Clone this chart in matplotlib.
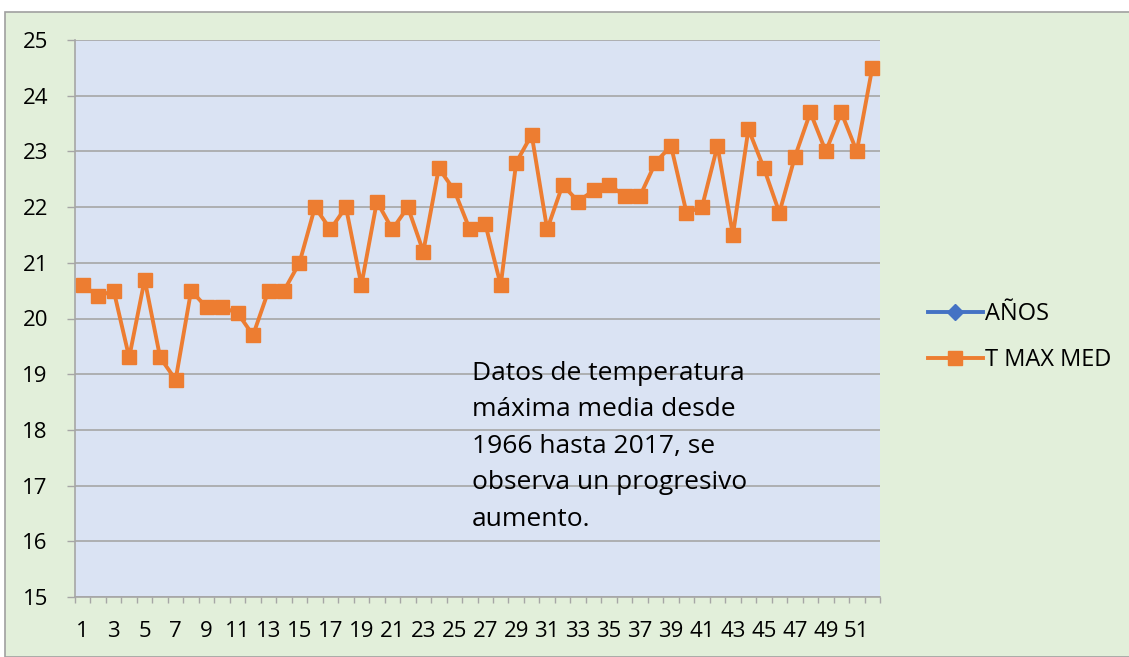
import matplotlib

matplotlib.use("Agg")
import matplotlib.pyplot as plt
from matplotlib.lines import Line2D
from matplotlib.patches import Rectangle
import numpy as np

# T MAX MED, 1966-2017 (category 1..52)
categories = list(range(1, 53))
t_max_med = [
    20.6, 20.4, 20.5, 19.3, 20.7, 19.3, 18.9, 20.5, 20.2, 20.2,
    20.1, 19.7, 20.5, 20.5, 21.0, 22.0, 21.6, 22.0, 20.6, 22.1,
    21.6, 22.0, 21.2, 22.7, 22.3, 21.6, 21.7, 20.6, 22.8, 23.3,
    21.6, 22.4, 22.1, 22.3, 22.4, 22.2, 22.2, 22.8, 23.1, 21.9,
    22.0, 23.1, 21.5, 23.4, 22.7, 21.9, 22.9, 23.7, 23.0, 23.7,
    23.0, 24.5,
]
y_ticks = [15, 16, 17, 18, 19, 20, 21, 22, 23, 24, 25]
legend_labels = ["AÑOS", "T MAX MED"]
note = ("Datos de temperatura\nmáxima media desde\n1966 hasta 2017, se\n"
        "observa un progresivo\naumento.")

GREEN = "#E2EFDA"
PLOT_BG = "#DAE3F3"
ORANGE = "#ED7D31"
BLUE = "#4472C4"
GRID = "#A6A6A6"

plt.rcParams["font.family"] = ["Open Sans", "DejaVu Sans"]

fig = plt.figure(figsize=(11.29, 6.57), dpi=100)
fig.patch.set_facecolor("white")
# chart area (green, thin gray border)
fig.patches.append(Rectangle((5 / 1129, 0), 1.0, 1 - 12 / 657,
                             transform=fig.transFigure, facecolor=GREEN,
                             edgecolor="#A0A0A0", linewidth=1.2, zorder=-5))

ax = fig.add_axes([75 / 1129, 1 - 597 / 657, 805 / 1129, 557 / 657])
ax.set_facecolor(PLOT_BG)
ax.set_zorder(2)

ax.plot(categories, t_max_med, color=ORANGE, linewidth=2.8, marker="s",
        markersize=10, markerfacecolor=ORANGE, markeredgecolor=ORANGE,
        zorder=3, clip_on=False)

ax.set_xlim(0.5, 52.5)
ax.set_ylim(15, 25)
ax.set_yticks(y_ticks)
ax.grid(axis="y", color=GRID, linewidth=1.2)
ax.set_axisbelow(True)

# category axis: tick marks between categories, labels every other category
ax.set_xticks(np.arange(0.5, 53, 1.0))
ax.set_xticklabels([])
ax.set_xticks(categories[::2], minor=True)
ax.set_xticklabels([str(c) for c in categories[::2]], minor=True)
ax.tick_params(axis="x", which="major", length=4.5, color=GRID, width=1)
ax.tick_params(axis="x", which="minor", length=0, pad=17, labelsize=16)
ax.tick_params(axis="y", length=6, color=GRID, width=1, labelsize=16,
               pad=13.5)

for side in ("top", "right"):
    ax.spines[side].set_visible(False)
for side in ("left", "bottom"):
    ax.spines[side].set_color(GRID)
    ax.spines[side].set_linewidth(1.2)

fig.text(472 / 1129, 1 - 361 / 657, note, fontsize=19, va="top",
         ha="left", linespacing=1.6, color="black", zorder=10)

handles = [
    Line2D([], [], color=BLUE, linewidth=2.8, marker="D", markersize=8),
    Line2D([], [], color=ORANGE, linewidth=2.8, marker="s", markersize=10),
]
fig.legend(handles, legend_labels, loc="center left",
           bbox_to_anchor=(907 / 1129, 1 - 337 / 657), frameon=False,
           fontsize=17, handlelength=2.3, handletextpad=0.1,
           labelspacing=0.95)

fig.savefig("out.png", dpi=100)
